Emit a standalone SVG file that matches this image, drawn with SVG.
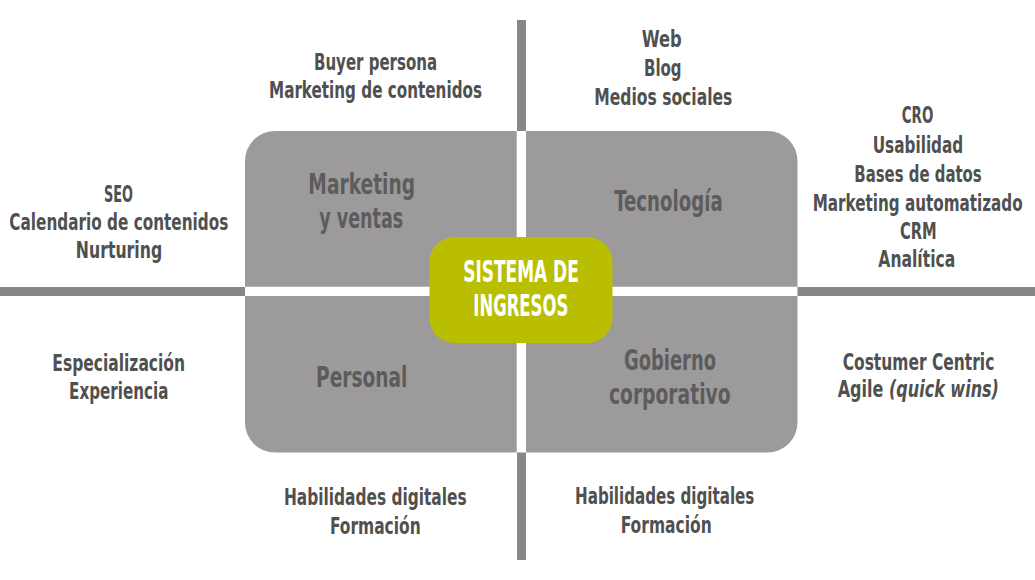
<svg xmlns="http://www.w3.org/2000/svg" width="1035" height="580" viewBox="0 0 1035 580">
<style>
text{font-family:"Liberation Sans Narrow","DejaVu Sans Condensed","Liberation Sans",sans-serif;font-stretch:condensed;text-anchor:middle;font-weight:bold}
.out{font-size:23px;fill:#505050}
.q{font-size:29px;fill:#5c5c5c}
.c{font-size:31px;fill:#ffffff}
.quad{fill:#9c9a9b}
.ln{fill:#878787}
</style>
<rect width="1035" height="580" fill="#ffffff"/>
<g id="connectors">
<rect class="ln" x="0" y="287" width="245" height="9"/>
<rect class="ln" x="797.5" y="287" width="237.5" height="9"/>
<rect class="ln" x="517" y="20" width="9" height="111"/>
<rect class="ln" x="517" y="452.5" width="9" height="107.5"/>
</g>
<g id="marketing-ventas">
<path class="quad" d="M245,286.7 V161 A30,30 0 0 1 275,131 H516.7 V286.7 Z"/>
<text class="q" x="361.7" y="194" textLength="106.7" lengthAdjust="spacingAndGlyphs">Marketing</text>
<text class="q" x="361.2" y="228.3" textLength="84" lengthAdjust="spacingAndGlyphs">y ventas</text>
</g>
<g id="tecnologia">
<path class="quad" d="M526,131 H767.5 A30,30 0 0 1 797.5,161 V286.7 H526 Z"/>
<text class="q" x="668.5" y="211" textLength="108.3" lengthAdjust="spacingAndGlyphs">Tecnología</text>
</g>
<g id="personal">
<path class="quad" d="M245,296 H516.7 V452.5 H275 A30,30 0 0 1 245,422.5 Z"/>
<text class="q" x="361.7" y="387.3" textLength="91.3" lengthAdjust="spacingAndGlyphs">Personal</text>
</g>
<g id="gobierno-corporativo">
<path class="quad" d="M526,296 H797.5 V422.5 A30,30 0 0 1 767.5,452.5 H526 Z"/>
<text class="q" x="670" y="370" textLength="92" lengthAdjust="spacingAndGlyphs">Gobierno</text>
<text class="q" x="669.8" y="404" textLength="121.7" lengthAdjust="spacingAndGlyphs">corporativo</text>
</g>
<g id="sistema-ingresos">
<rect x="429.5" y="237" width="183" height="106" rx="25" fill="#b9bf00"/>
<text class="c" x="521" y="282.3" textLength="115.7" lengthAdjust="spacingAndGlyphs">SISTEMA DE</text>
<text class="c" x="520.8" y="316" textLength="95" lengthAdjust="spacingAndGlyphs">INGRESOS</text>
</g>
<g id="label-marketing-top">
<text class="out" x="375.5" y="70" textLength="123" lengthAdjust="spacingAndGlyphs">Buyer persona</text>
<text class="out" x="375.5" y="97.5" textLength="213" lengthAdjust="spacingAndGlyphs">Marketing de contenidos</text>
</g>
<g id="label-marketing-left">
<text class="out" x="118.5" y="201.7" textLength="29" lengthAdjust="spacingAndGlyphs">SEO</text>
<text class="out" x="118.8" y="230" textLength="219" lengthAdjust="spacingAndGlyphs">Calendario de contenidos</text>
<text class="out" x="119" y="258.3" textLength="86.3" lengthAdjust="spacingAndGlyphs">Nurturing</text>
</g>
<g id="label-tecnologia-top">
<text class="out" x="661.7" y="47.3" textLength="40" lengthAdjust="spacingAndGlyphs">Web</text>
<text class="out" x="662.8" y="75.5" textLength="37.7" lengthAdjust="spacingAndGlyphs">Blog</text>
<text class="out" x="663.3" y="104.5" textLength="138" lengthAdjust="spacingAndGlyphs">Medios sociales</text>
</g>
<g id="label-tecnologia-right">
<text class="out" x="917.5" y="123.3" textLength="31.6" lengthAdjust="spacingAndGlyphs">CRO</text>
<text class="out" x="918" y="152.5" textLength="90.6" lengthAdjust="spacingAndGlyphs">Usabilidad</text>
<text class="out" x="918" y="181.5" textLength="127.4" lengthAdjust="spacingAndGlyphs">Bases de datos</text>
<text class="out" x="917.7" y="210.5" textLength="210" lengthAdjust="spacingAndGlyphs">Marketing automatizado</text>
<text class="out" x="918.3" y="239" textLength="36.7" lengthAdjust="spacingAndGlyphs">CRM</text>
<text class="out" x="916.8" y="267.3" textLength="77" lengthAdjust="spacingAndGlyphs">Analítica</text>
</g>
<g id="label-personal-left">
<text class="out" x="118.7" y="370.7" textLength="132.7" lengthAdjust="spacingAndGlyphs">Especialización</text>
<text class="out" x="118.7" y="399.3" textLength="99.3" lengthAdjust="spacingAndGlyphs">Experiencia</text>
</g>
<g id="label-personal-bottom">
<text class="out" x="375.3" y="505" textLength="182.7" lengthAdjust="spacingAndGlyphs">Habilidades digitales</text>
<text class="out" x="375.3" y="534" textLength="90.7" lengthAdjust="spacingAndGlyphs">Formación</text>
</g>
<g id="label-gobierno-right">
<text class="out" x="918.5" y="370" textLength="151.7" lengthAdjust="spacingAndGlyphs">Costumer Centric</text>
<text class="out" x="918.3" y="397.3" textLength="161.3" lengthAdjust="spacingAndGlyphs">Agile <tspan font-style="italic">(quick wins)</tspan></text>
</g>
<g id="label-gobierno-bottom">
<text class="out" x="664.7" y="504" textLength="179.3" lengthAdjust="spacingAndGlyphs">Habilidades digitales</text>
<text class="out" x="666.2" y="533.3" textLength="91" lengthAdjust="spacingAndGlyphs">Formación</text>
</g>
</svg>
